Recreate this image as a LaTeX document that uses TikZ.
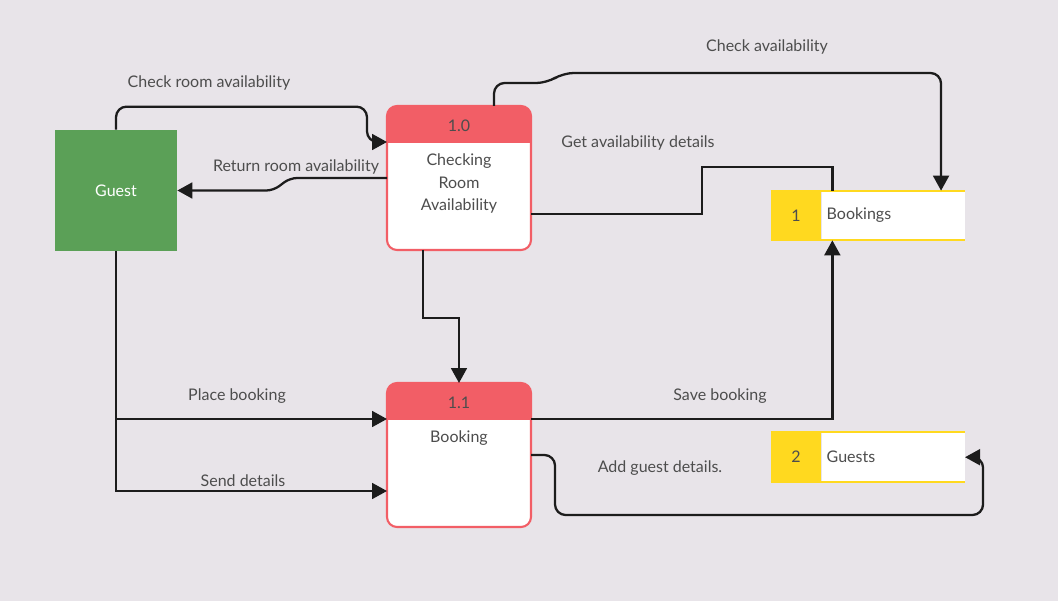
\documentclass[tikz,border=0pt]{standalone}
\usepackage{fontspec}
\setmainfont{Lato}
\usepackage{xcolor}
\usepackage{tikz}
\usetikzlibrary{arrows.meta, positioning}

\definecolor{bgpaper}{RGB}{232,228,233}
\definecolor{guestgreen}{RGB}{91,160,87}
\definecolor{procred}{RGB}{242,94,102}
\definecolor{storeyellow}{RGB}{255,217,31}
\definecolor{textgray}{RGB}{77,77,77}
\definecolor{flowblack}{RGB}{28,28,28}

\begin{document}
\begin{tikzpicture}[
    font=\fontsize{9.1}{12.8}\selectfont,
    text=textgray,
    entity/.style={rectangle, fill=guestgreen, text=white,
                   minimum width=2.44cm, minimum height=2.42cm},
    process/.style={rectangle, rounded corners=0.2cm, fill=white,
                    outer sep=0pt, minimum width=2.88cm, minimum height=2.88cm},
    storeid/.style={rectangle, fill=storeyellow, inner sep=0pt,
                    minimum width=1cm, minimum height=0.98cm},
    storename/.style={rectangle, fill=white, inner xsep=0.1cm, inner ysep=0pt,
                      minimum width=2.86cm, minimum height=0.98cm,
                      text width=2.66cm, align=left},
    flow/.style={draw=flowblack, line width=1.3pt},
    arrow/.style={flow, -{Triangle[length=8.5pt, width=9pt]}}
]

\fill[bgpaper] (0,0) rectangle (21.16,-12.02);
\useasboundingbox (0,0) rectangle (21.16,-12.02);

\node[entity] (guest) at (2.32,-3.81) {Guest};
\node[process] (chk) at (9.18,-3.56) {};
\node[process, below=2.66cm of chk] (bkg) {};

\node[storeid] (s1) at (15.92,-4.31) {1};
\node[storename, right=0pt of s1] (bookings) {Bookings};
\node[storeid, below=3.84cm of s1] (s2) {2};
\node[storename, right=0pt of s2] (guests) {Guests};

% process headers
\foreach \p/\id in {chk/1.0, bkg/1.1} {
  \begin{scope}
    \clip[rounded corners=0.2cm] (\p.south west) rectangle (\p.north east);
    \fill[procred] (\p.north west) rectangle ([yshift=-0.74cm]\p.north east);
  \end{scope}
  \draw[procred, line width=1.2pt, rounded corners=0.2cm]
    (\p.south west) rectangle (\p.north east);
  \node (\p num) at ([yshift=-0.4cm]\p.north) {\id};
}
\node[align=center] (chktext) at ([yshift=-1.55cm]chk.north) {Checking\\Room\\Availability};
\node (bkgtext) at ([yshift=-1.1cm]bkg.north) {Booking};

% store borders
\foreach \s/\n in {s1/bookings, s2/guests} {
  \draw[storeyellow, line width=1.2pt] (\s.north west) -- (\n.north east);
  \draw[storeyellow, line width=1.2pt] (\s.south west) -- (\n.south east);
}

\coordinate (chkin)  at ([yshift=-0.72cm]chk.north west);
\coordinate (bkgin)  at ([yshift=0.72cm]bkg.west);
\coordinate (bkgin2) at ([yshift=-0.72cm]bkg.west);
\coordinate (bkin)   at ([xshift=0.22cm]bookings.north west);
\coordinate (bkin2)  at ([xshift=0.22cm]bookings.south west);

\draw[arrow, rounded corners=6pt] (guest.north) -- ++(0,0.46) -| ([xshift=-0.4cm]chkin) -- (chkin);
\draw[arrow, rounded corners=4pt] (chk.west) -- ++(-1.94,0) -- ([xshift=1.92cm]guest.east) -- (guest.east);
\draw[arrow, rounded corners=6pt] ([xshift=0.7cm]chk.north) -- ++(0,0.46) -- ++(1.06,0)
    -- ++(0.32,0.2) -| ([xshift=-0.48cm]bookings.north east);
\draw[flow] ([yshift=-0.72cm]chk.east) -| ++(3.42,0.94) -| (bkin);
\draw[arrow] ([xshift=-0.72cm]chk.south) -- ++(0,-1.36) -| (bkg.north);
\draw[arrow] (guest.south) |- (bkgin2);
\draw[arrow] (guest.south |- bkgin) -- (bkgin);
\draw[arrow] ([yshift=0.72cm]bkg.east) -| (bkin2);
\draw[arrow, rounded corners=6pt] (bkg.east) -- ++(0.48,0) -- ++(0,-1.2)
    -| ([xshift=0.36cm]guests.east) -- (guests.east);

% flow labels
\node (lcheckroom) at (4.18,-1.66)  {Check room availability};
\node (lreturn)    at (5.92,-3.34)  {Return room availability};
\node (lcheck)     at (15.34,-0.94) {Check availability};
\node (lget)       at (12.76,-2.86) {Get availability details};
\node (lplace)     at (4.74,-7.92)  {Place booking};
\node (lsend)      at (4.86,-9.62)  {Send details};
\node (lsave)      at (14.4,-7.92)  {Save booking};
\node (ladd)       at (13.2,-9.36)  {Add guest details.};

\end{tikzpicture}
\end{document}
